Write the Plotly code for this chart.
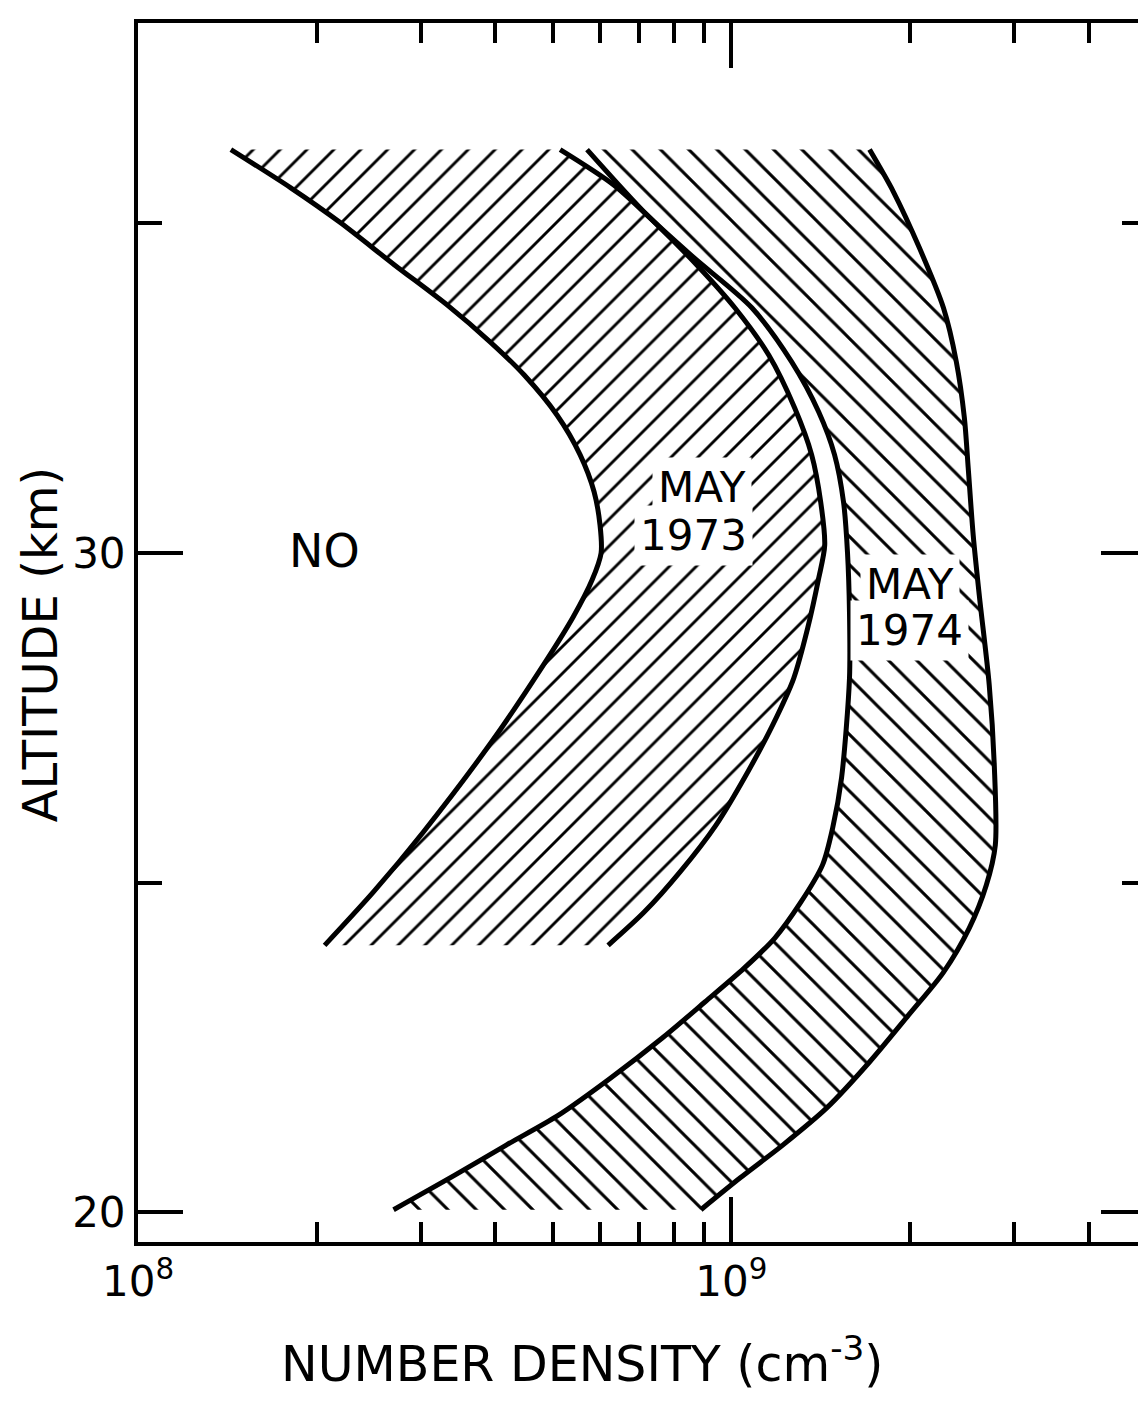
import plotly.graph_objects as go

# ---- data (density in cm^-3, altitude in km) ----
alt_1973_left = [36.12, 35.54, 35.01, 34.37, 33.76, 33.20, 32.70, 32.09, 31.49, 30.93, 30.42, 30.0,
                 29.59, 29.03, 28.25, 27.13, 25.77, 24.86, 24.05]
den_1973_left = [1.434e8, 1.809e8, 2.195e8, 2.706e8, 3.322e8, 3.925e8, 4.477e8, 5.087e8, 5.562e8, 5.871e8, 6.009e8, 6.033e8,
                 5.825e8, 5.413e8, 4.782e8, 3.94e8, 3.027e8, 2.494e8, 2.063e8]

alt_1973_right = [36.12, 35.58, 34.98, 34.32, 33.72, 33.0, 32.2, 31.49, 30.77, 30.12, 29.62, 28.86,
                  28.10, 27.39, 26.68, 25.87, 25.16, 24.55, 24.05]
den_1973_right = [5.146e8, 6.345e8, 7.494e8, 8.851e8, 1.0137e9, 1.157e9, 1.279e9, 1.366e9, 1.415e9, 1.437e9, 1.404e9, 1.345e9,
                  1.274e9, 1.174e9, 1.066e9, 9.417e8, 8.191e8, 7.125e8, 6.199e8]

alt_1974_left = [36.12, 35.13, 34.48, 33.72, 32.90, 32.14, 31.49, 30.77, 30.0, 29.10, 28.10, 26.59, 25.83,
                 25.27, 24.70, 24.16, 23.70, 23.19, 22.64, 22.03, 21.47, 21.02, 20.56, 20.04]
den_1974_left = [5.713e8, 7.208e8, 8.648e8, 1.083e9, 1.264e9, 1.404e9, 1.493e9, 1.546e9, 1.570e9, 1.582e9, 1.582e9, 1.534e9, 1.482e9,
                 1.425e9, 1.309e9, 1.184e9, 1.050e9, 9.025e8, 7.641e8, 6.246e8, 5.107e8, 4.175e8, 3.414e8, 2.696e8]

alt_1974_right = [36.12, 35.48, 34.63, 33.72, 32.90, 32.05, 31.29, 30.27, 29.36, 28.0, 26.78, 25.57, 24.96,
                  24.31, 23.64, 22.99, 22.28, 21.58, 21.02, 20.52, 20.04]
den_1974_right = [1.710e9, 1.876e9, 2.075e9, 2.278e9, 2.395e9, 2.471e9, 2.508e9, 2.557e9, 2.618e9, 2.721e9, 2.775e9, 2.786e9, 2.690e9,
                  2.518e9, 2.278e9, 1.989e9, 1.710e9, 1.447e9, 1.221e9, 1.034e9, 8.887e8]

x_major_ticks = [1e8, 1e9]
x_major_text = ["10<sup>8</sup>", "10<sup>9</sup>"]
x_minor_ticks = [2e8, 3e8, 4e8, 5e8, 6e8, 7e8, 8e8, 9e8, 2e9, 3e9, 4e9]
y_major_ticks = [20, 30]
y_major_text = ["20", "30"]
y_minor_ticks = [25, 35]

FONT = "DejaVu Sans"

fig = go.Figure()

def band(left_x, left_y, right_x, right_y, shape, size):
    xs = list(left_x) + list(reversed(right_x))
    ys = list(left_y) + list(reversed(right_y))
    fig.add_trace(go.Scatter(
        x=xs, y=ys, mode="lines", fill="toself",
        line=dict(width=0, color="rgba(0,0,0,0)"),
        fillcolor="white",
        fillpattern=dict(shape=shape, size=size, solidity=0.15, fgopacity=1,
                         fgcolor="black", bgcolor="white"),
        hoverinfo="skip", showlegend=False))

band(den_1973_left, alt_1973_left, den_1973_right, alt_1973_right, "/", 19)
band(den_1974_left, alt_1974_left, den_1974_right, alt_1974_right, "\\", 20)

for xs, ys in [(den_1973_left, alt_1973_left), (den_1973_right, alt_1973_right),
               (den_1974_left, alt_1974_left), (den_1974_right, alt_1974_right)]:
    fig.add_trace(go.Scatter(x=xs, y=ys, mode="lines",
                             line=dict(color="black", width=5, shape="spline", smoothing=0.8),
                             hoverinfo="skip", showlegend=False))

ann_font = dict(family=FONT, size=42, color="black")
fig.add_annotation(x=8.3146, y=30.03, xref="x", yref="y", text="NO", showarrow=False,
                   font=dict(family=FONT, size=46, color="black"))
fig.add_annotation(x=8.950, y=31.0, xref="x", yref="y", text="MAY", showarrow=False,
                   font=ann_font, bgcolor="white", borderpad=5)
fig.add_annotation(x=8.937, y=30.27, xref="x", yref="y", text="1973", showarrow=False,
                   font=ann_font, bgcolor="white", borderpad=5)
fig.add_annotation(x=9.302, y=29.53, xref="x", yref="y", text="MAY", showarrow=False,
                   font=ann_font, bgcolor="white", borderpad=5)
fig.add_annotation(x=9.300, y=28.82, xref="x", yref="y", text="1974", showarrow=False,
                   font=ann_font, bgcolor="white", borderpad=5)

# axis titles
fig.add_annotation(x=0.4406, y=-0.097, xref="paper", yref="paper",
                   xanchor="center", yanchor="middle",
                   text="NUMBER DENSITY (cm<sup>-3</sup>)", showarrow=False,
                   font=dict(family=FONT, size=49, color="black"))
fig.add_annotation(x=-0.097, y=0.4897, xref="paper", yref="paper",
                   xanchor="center", yanchor="middle",
                   text="ALTITUDE (km)", showarrow=False, textangle=-90,
                   font=dict(family=FONT, size=48, color="black"))

fig.update_layout(
    width=1146, height=1401,
    margin=dict(l=130, r=4, t=15, b=167),
    paper_bgcolor="white", plot_bgcolor="white",
    showlegend=False,
    xaxis=dict(type="log", range=[8, 9.69897], showgrid=False, zeroline=False,
               showline=True, linewidth=4, linecolor="black", mirror="ticks",
               ticks="inside", ticklen=45, tickwidth=4, tickcolor="black",
               tickvals=x_major_ticks, ticktext=x_major_text,
               tickfont=dict(family=FONT, size=42, color="black"),
               minor=dict(tickvals=x_minor_ticks, ticks="inside", ticklen=20,
                          tickwidth=4, tickcolor="black", showgrid=False)),
    yaxis=dict(range=[19.55, 38.04], showgrid=False, zeroline=False,
               showline=True, linewidth=4, linecolor="black", mirror="ticks",
               ticks="inside", ticklen=45, tickwidth=4, tickcolor="black",
               tickvals=y_major_ticks, ticktext=y_major_text,
               tickfont=dict(family=FONT, size=42, color="black"),
               minor=dict(tickvals=y_minor_ticks, ticks="inside", ticklen=24,
                          tickwidth=4, tickcolor="black", showgrid=False)),
)

fig.write_html("out.html")
